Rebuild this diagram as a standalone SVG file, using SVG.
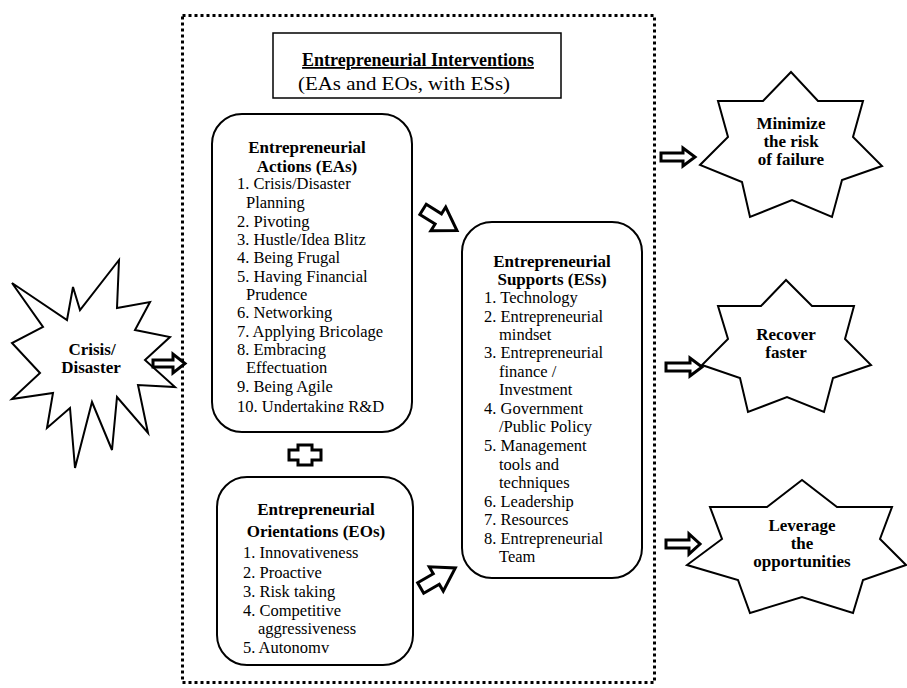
<svg xmlns="http://www.w3.org/2000/svg" width="907" height="688" viewBox="0 0 907 688">
<style>
text{font-family:"Liberation Serif","Times New Roman",serif;fill:#000}
.b{font-weight:bold;font-size:17px}
.t{font-size:16.5px}
.box{fill:#fff;stroke:#000;stroke-width:2}
.star{fill:#fff;stroke:#000;stroke-width:2;stroke-linejoin:miter}
.arr{fill:#fff;stroke:#000;stroke-width:3;stroke-linejoin:miter}
</style>
<defs>
<polygon id="ba" points="-20,-6 -2,-6 -2,-14 20,0 -2,14 -2,6 -20,6"/>
<clipPath id="eaclip"><rect x="212" y="110" width="200" height="302"/></clipPath>
</defs>
<rect width="907" height="688" fill="#fff"/>
<rect id="frame" x="182.5" y="15.5" width="472" height="667" fill="none" stroke="#000" stroke-width="3" stroke-dasharray="3 3"/>

<g id="title">
<rect x="273" y="33" width="288" height="65" fill="#fff" stroke="#000" stroke-width="1.5"/>
<text x="418" y="66" text-anchor="middle" style="font-weight:bold;font-size:18px;text-decoration:underline">Entrepreneurial Interventions</text>
<text x="298" y="90" textLength="212" lengthAdjust="spacingAndGlyphs" style="font-size:19.5px">(EAs and EOs, with ESs)</text>
</g>

<g id="crisis">
<polygon class="star" points="12,283 67,320 73,287 80,310 119,260 117,308 150,302 135,330 170,337 145,360 175,387 138,385 148,433 117,397 112,450 92,402 75,468 70,408 47,428 53,393 12,399 40,373 12,343 43,327"/>
<text class="b" x="92" y="355" text-anchor="middle">Crisis/</text>
<text class="b" x="91" y="373" text-anchor="middle">Disaster</text>
</g>

<g id="eas">
<rect class="box" x="212" y="114" width="200" height="318" rx="30"/>
<text class="b" x="307" y="153" text-anchor="middle">Entrepreneurial</text>
<text class="b" x="307" y="172" text-anchor="middle">Actions (EAs)</text>
<text class="t" x="237" y="189">1. Crisis/Disaster</text>
<text class="t" x="246" y="208">Planning</text>
<text class="t" x="237" y="227">2. Pivoting</text>
<text class="t" x="237" y="245">3. Hustle/Idea Blitz</text>
<text class="t" x="237" y="263">4. Being Frugal</text>
<text class="t" x="237" y="282">5. Having Financial</text>
<text class="t" x="246" y="300">Prudence</text>
<text class="t" x="237" y="318">6. Networking</text>
<text class="t" x="237" y="337">7. Applying Bricolage</text>
<text class="t" x="237" y="355">8. Embracing</text>
<text class="t" x="246" y="373">Effectuation</text>
<text class="t" x="237" y="392">9. Being Agile</text>
<text class="t" x="237" y="412" clip-path="url(#eaclip)">10. Undertaking R&amp;D</text>
</g>

<g id="eos">
<rect class="box" x="217" y="477" width="196" height="188" rx="30"/>
<text class="b" x="316" y="515" text-anchor="middle">Entrepreneurial</text>
<text class="b" x="316" y="537" text-anchor="middle">Orientations (EOs)</text>
<text class="t" x="243" y="558">1. Innovativeness</text>
<text class="t" x="243" y="578">2. Proactive</text>
<text class="t" x="243" y="597">3. Risk taking</text>
<text class="t" x="243" y="616">4. Competitive</text>
<text class="t" x="258" y="634">aggressiveness</text>
<text class="t" x="243" y="653">5. Autonomv</text>
</g>

<g id="ess">
<rect class="box" x="462" y="222" width="180" height="356" rx="30"/>
<text class="b" x="552" y="267" text-anchor="middle">Entrepreneurial</text>
<text class="b" x="552" y="285" text-anchor="middle">Supports (ESs)</text>
<text class="t" x="484" y="303">1. Technology</text>
<text class="t" x="484" y="322">2. Entrepreneurial</text>
<text class="t" x="499" y="340">mindset</text>
<text class="t" x="484" y="358">3. Entrepreneurial</text>
<text class="t" x="499" y="377">finance /</text>
<text class="t" x="499" y="395">Investment</text>
<text class="t" x="484" y="414">4. Government</text>
<text class="t" x="499" y="432">/Public Policy</text>
<text class="t" x="484" y="451">5. Management</text>
<text class="t" x="499" y="470">tools and</text>
<text class="t" x="499" y="488">techniques</text>
<text class="t" x="484" y="507">6. Leadership</text>
<text class="t" x="484" y="525">7. Resources</text>
<text class="t" x="484" y="544">8. Entrepreneurial</text>
<text class="t" x="499" y="562">Team</text>
</g>

<g id="minimize">
<polygon class="star" points="791,72 763,101 718,101 728,137 700,165 742,182 750,217 792,200 832,217 842,180 882,166 853,137 863,101 818,101"/>
<text class="b" x="791" y="129" text-anchor="middle">Minimize</text>
<text class="b" x="791" y="147" text-anchor="middle">the risk</text>
<text class="b" x="791" y="165" text-anchor="middle">of failure</text>
</g>

<g id="recover">
<polygon class="star" points="786,280 761,306 718,306 728,339 702,365 740,378 748,412 787,397 824,412 833,378 871,365 845,339 854,306 812,306"/>
<text class="b" x="786" y="340" text-anchor="middle">Recover</text>
<text class="b" x="786" y="358" text-anchor="middle">faster</text>
</g>

<g id="leverage">
<polygon class="star" points="802,480 767,507 710,507 722,539 687,565 738,580 750,613 802,597 853,613 863,580 906,565 880,539 892,507 837,507"/>
<text class="b" x="802" y="531" text-anchor="middle">Leverage</text>
<text class="b" x="802" y="549" text-anchor="middle">the</text>
<text class="b" x="802" y="567" text-anchor="middle">opportunities</text>
</g>

<g id="connectors">
<polygon class="arr" points="153,360 173,360 173,354 185,363.5 173,373 173,367 153,367"/>
<use href="#ba" class="arr" transform="translate(440,220) rotate(32)"/>
<use href="#ba" class="arr" transform="translate(438,578) rotate(-30)"/>
<polygon class="arr" points="298,445 312,445 312,450 321,450 321,460 312,460 312,465 298,465 298,460 289,460 289,450 298,450"/>
<polygon class="arr" points="661,153 683,153 683,148 695,157 683,166 683,161 661,161"/>
<polygon class="arr" points="666,363 690,363 690,358 702,367 690,376 690,371 666,371"/>
<polygon class="arr" points="666,540 689,540 689,534 700,544 689,554 689,548 666,548"/>
</g>
</svg>
